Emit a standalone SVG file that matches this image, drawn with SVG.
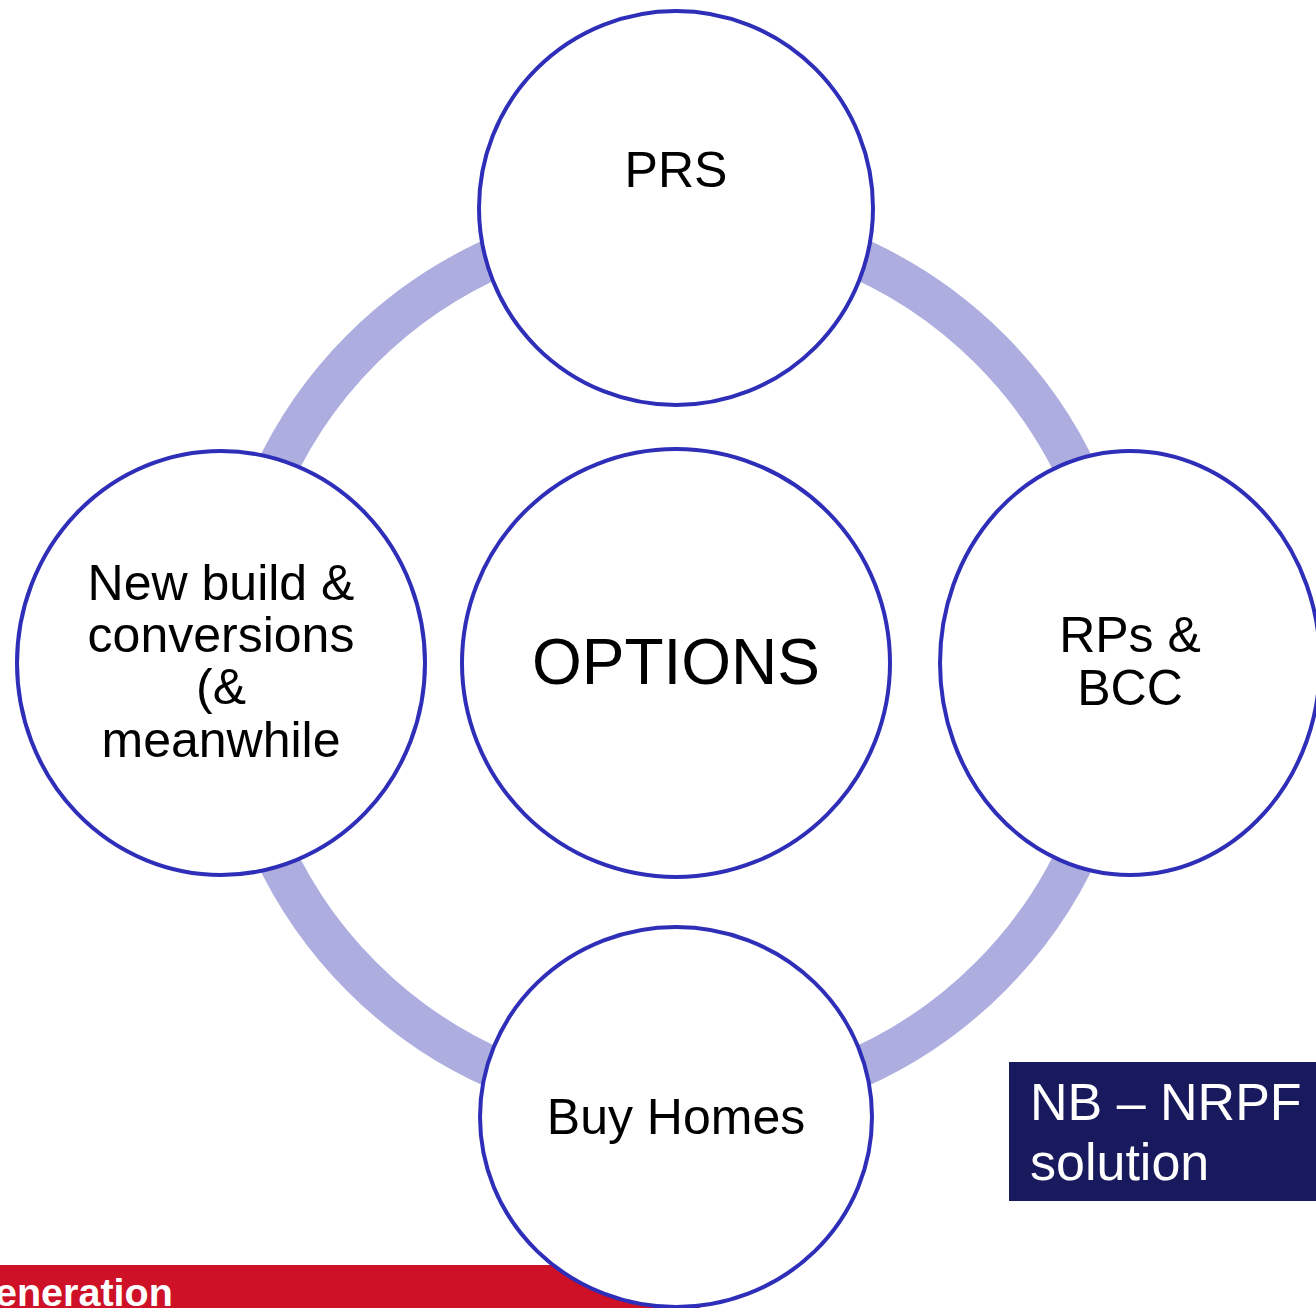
<svg xmlns="http://www.w3.org/2000/svg" width="1316" height="1308" viewBox="0 0 1316 1308">
<style>
.node{fill:#fff;stroke:#2E2EB8;stroke-width:4}
.lbl{font-family:"Liberation Sans",Arial,sans-serif;font-size:50px;fill:#000;text-anchor:middle}
</style>
<rect width="1316" height="1308" fill="#fff"/>
<g id="connectors">
<circle cx="676" cy="663" r="444" fill="none" stroke="#ADADE0" stroke-width="41"/>
</g>
<g id="footer">
<rect x="0" y="1265" width="700" height="43" fill="#CE1126"/>
<text x="-5" y="1306" font-family="Liberation Sans,Arial,sans-serif" font-weight="bold" font-size="39.5" fill="#fff">eneration</text>
</g>
<g id="prs"><ellipse class="node" cx="676" cy="208" rx="197" ry="197"/><text class="lbl" x="676" y="187">PRS</text></g>
<g id="options"><ellipse class="node" cx="676" cy="663" rx="214" ry="214"/><text class="lbl" x="676" y="684" style="font-size:64px">OPTIONS</text></g>
<g id="newbuild"><ellipse class="node" cx="221" cy="663" rx="204" ry="212"/><text class="lbl" x="221" y="600">New build &amp;</text><text class="lbl" x="221" y="652">conversions</text><text class="lbl" x="221" y="704">(&amp;</text><text class="lbl" x="221" y="757">meanwhile</text></g>
<g id="rps"><ellipse class="node" cx="1130" cy="663" rx="190" ry="212"/><text class="lbl" x="1130" y="652">RPs &amp;</text><text class="lbl" x="1130" y="705">BCC</text></g>
<g id="buyhomes"><ellipse class="node" cx="676" cy="1117" rx="196" ry="190"/><text class="lbl" x="676" y="1134">Buy Homes</text></g>
<g id="nb">
<rect x="1009" y="1062" width="307" height="139" fill="#19195E"/>
<text x="1030" y="1120" font-family="Liberation Sans,Arial,sans-serif" font-size="52" fill="#fff">NB – NRPF</text>
<text x="1030" y="1180" font-family="Liberation Sans,Arial,sans-serif" font-size="52" fill="#fff">solution</text>
</g>
</svg>
